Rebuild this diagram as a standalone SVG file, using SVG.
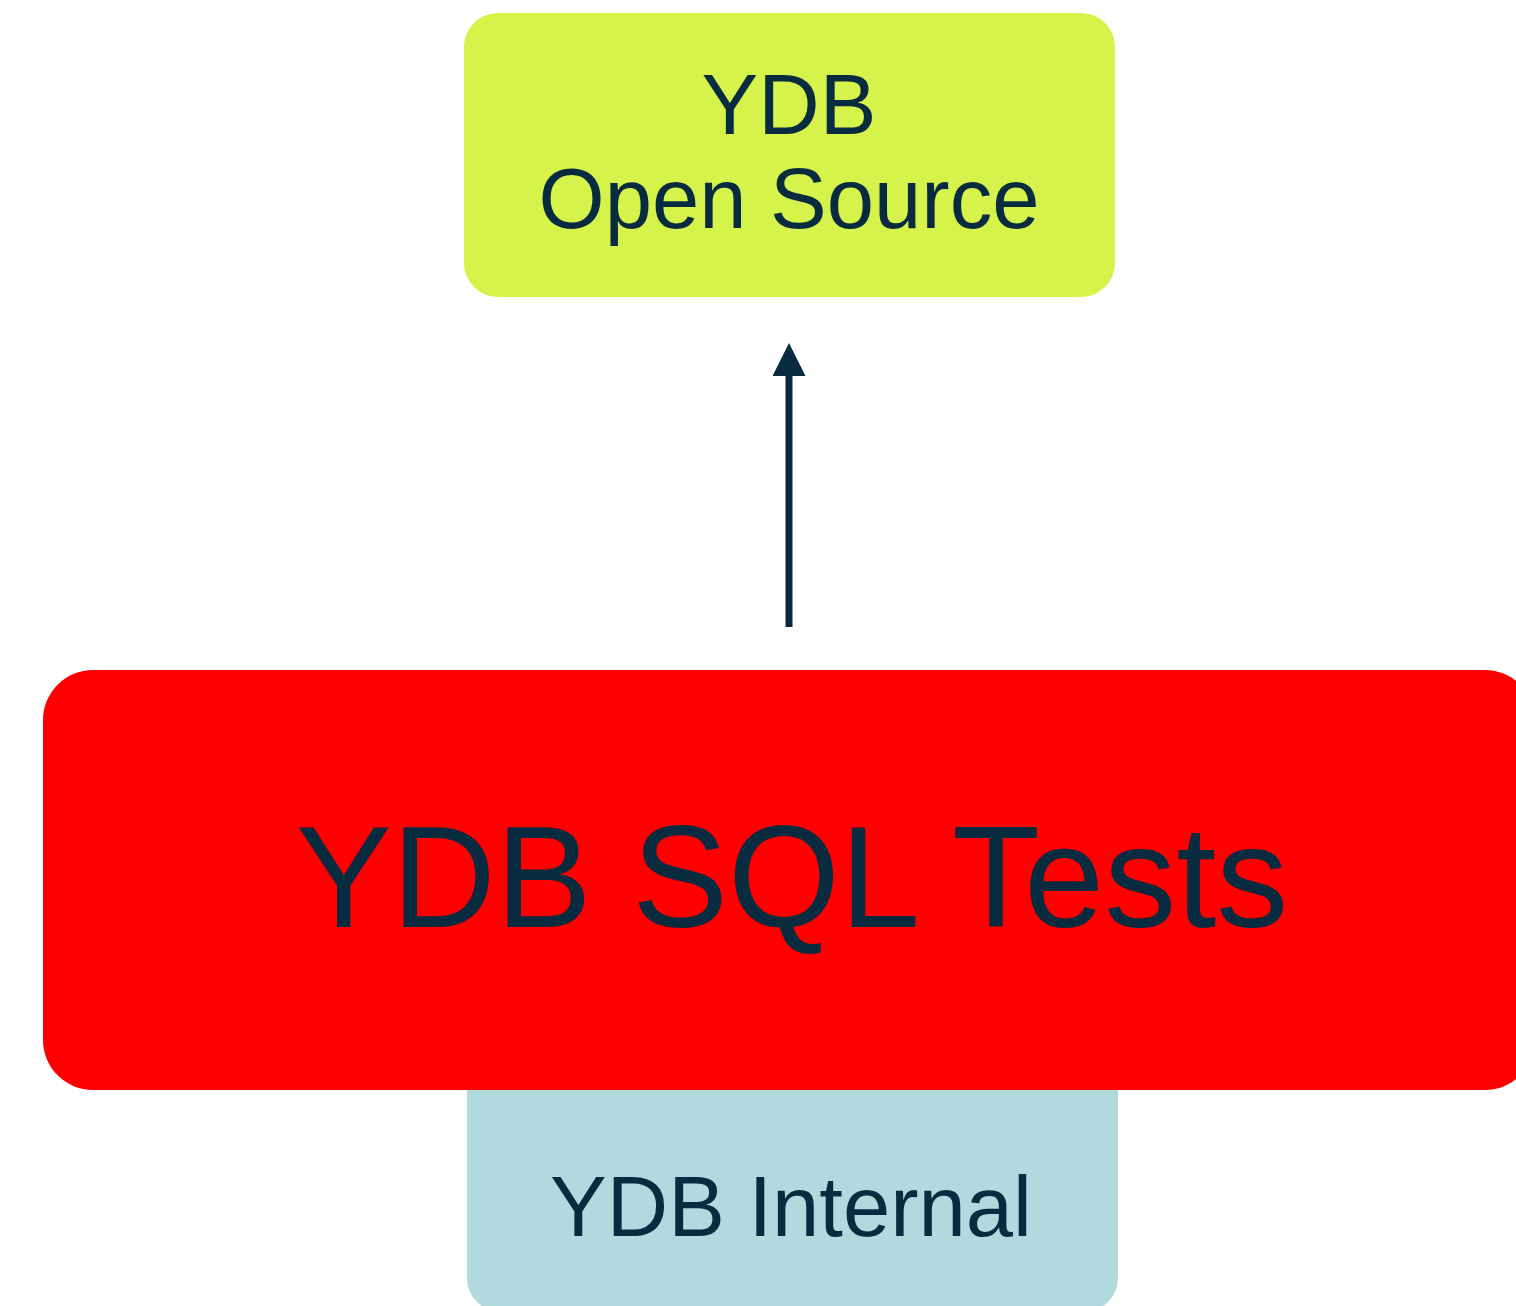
<svg xmlns="http://www.w3.org/2000/svg" width="1516" height="1306" viewBox="0 0 1516 1306">
<defs>
<style>
.lbl{font-family:"Liberation Sans",Arial,sans-serif;fill:#082b40;text-anchor:middle}
</style>
<marker id="ah" markerWidth="33" markerHeight="33" viewBox="0 0 33 33" refX="0" refY="16.5" orient="auto" markerUnits="userSpaceOnUse">
<path d="M0,0 L33,16.5 L0,33 Z" fill="#082b40"/>
</marker>
</defs>
<rect width="1516" height="1306" fill="#ffffff"/>
<g id="internal">
<rect x="467" y="1040" width="651" height="272" rx="34" ry="34" fill="#b0dadd"/>
<text class="lbl" x="791" y="1236" font-size="85">YDB Internal</text>
</g>
<g id="opensource">
<rect x="464" y="13" width="651" height="284" rx="34" ry="34" fill="#d6f34c"/>
<text class="lbl" x="789" y="134" font-size="85">YDB</text>
<text class="lbl" x="789" y="228" font-size="85">Open Source</text>
</g>
<g id="connectors">
<line x1="789" y1="627" x2="789" y2="376" stroke="#082b40" stroke-width="7" marker-end="url(#ah)"/>
</g>
<g id="sqltests">
<rect x="43" y="670" width="1492" height="420" rx="50" ry="50" fill="#fe0000"/>
<text class="lbl" x="792" y="927" font-size="144">YDB SQL Tests</text>
</g>
</svg>
